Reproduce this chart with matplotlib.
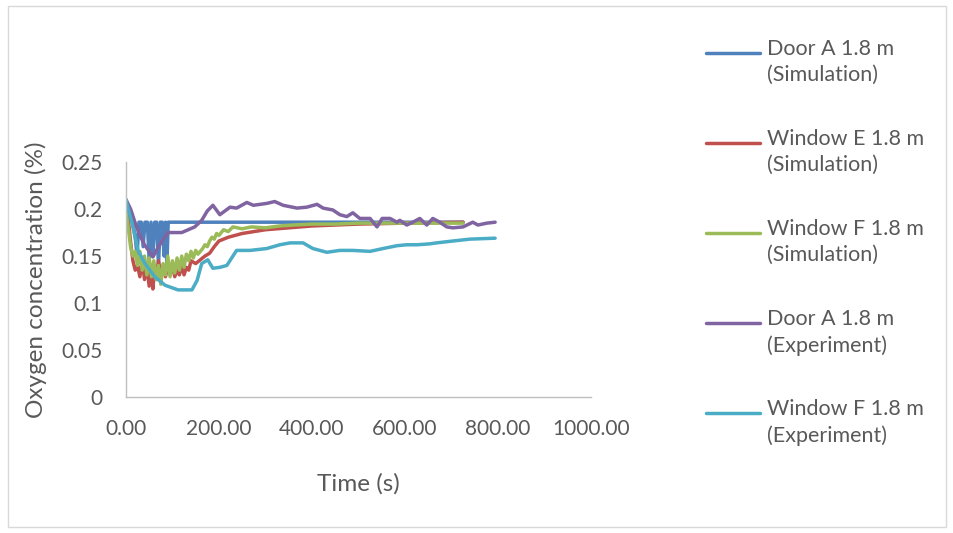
import matplotlib
matplotlib.use("Agg")
import matplotlib.pyplot as plt
from matplotlib.lines import Line2D
from matplotlib.patches import Rectangle
from matplotlib.ticker import FuncFormatter

# ==============================
# Data
# ==============================
door_sim_t = [0, 8, 15, 20, 24, 28, 33, 37, 41, 46, 50, 54, 58, 62, 66, 70, 74, 78, 82, 85,
              88, 91, 725]
door_sim_c = [0.21, 0.2, 0.186, 0.17, 0.15, 0.186, 0.186, 0.16, 0.186, 0.186, 0.145, 0.186,
              0.15, 0.186, 0.186, 0.14, 0.186, 0.186, 0.15, 0.186, 0.14, 0.186, 0.186]

win_e_sim_t = [0, 5, 10, 15, 20, 25, 30, 35, 40, 45, 50, 55, 58, 62, 66, 70, 75, 80, 85, 90,
               95, 100, 105, 110, 115, 120, 125, 130, 135, 140, 150, 160, 170, 180, 190, 200,
               220, 250, 300, 350, 400, 450, 500, 600, 725]
win_e_sim_c = [0.205, 0.19, 0.165, 0.145, 0.135, 0.14, 0.128, 0.145, 0.125, 0.14, 0.118, 0.135,
               0.115, 0.14, 0.125, 0.145, 0.13, 0.14, 0.128, 0.138, 0.13, 0.142, 0.128, 0.135,
               0.13, 0.14, 0.13, 0.138, 0.135, 0.145, 0.142, 0.146, 0.15, 0.153, 0.16, 0.166,
               0.17, 0.174, 0.178, 0.18, 0.182, 0.183, 0.184, 0.185, 0.186]

win_f_sim_t = [0, 5, 10, 15, 20, 25, 30, 35, 40, 45, 50, 55, 60, 65, 70, 75, 80, 85, 90, 95,
               100, 105, 110, 115, 120, 125, 130, 135, 140, 145, 150, 155, 160, 165, 170, 175,
               180, 185, 190, 195, 200, 210, 220, 230, 250, 270, 300, 330, 360, 400, 450, 500,
               550, 600, 650, 725]
win_f_sim_c = [0.198, 0.18, 0.16, 0.15, 0.155, 0.14, 0.155, 0.135, 0.15, 0.13, 0.148, 0.128,
               0.145, 0.125, 0.14, 0.12, 0.142, 0.13, 0.15, 0.128, 0.145, 0.132, 0.148, 0.135,
               0.15, 0.138, 0.152, 0.145, 0.155, 0.148, 0.156, 0.152, 0.155, 0.158, 0.162,
               0.16, 0.166, 0.17, 0.168, 0.174, 0.172, 0.178, 0.176, 0.181, 0.179, 0.181,
               0.18, 0.182, 0.183, 0.184, 0.184, 0.185, 0.185, 0.185, 0.185, 0.185]

door_exp_t = [0, 10, 20, 30, 40, 50, 58, 70, 90, 120, 148, 163, 175, 187, 202, 224, 238, 260,
              274, 303, 320, 338, 368, 389, 411, 424, 445, 460, 475, 488, 503, 525, 540, 551,
              568, 583, 589, 604, 617, 632, 647, 660, 675, 690, 703, 725, 746, 757, 776, 794]
door_exp_c = [0.21, 0.2, 0.185, 0.172, 0.162, 0.155, 0.149, 0.16, 0.175, 0.175, 0.181, 0.188,
              0.198, 0.204, 0.194, 0.202, 0.201, 0.207, 0.204, 0.206, 0.208, 0.204, 0.201,
              0.202, 0.205, 0.201, 0.199, 0.194, 0.192, 0.196, 0.19, 0.19, 0.181, 0.19, 0.19,
              0.186, 0.188, 0.183, 0.186, 0.19, 0.183, 0.19, 0.186, 0.181, 0.18, 0.181, 0.186,
              0.183, 0.185, 0.186]

win_f_exp_t = [0, 13, 26, 41, 62, 84, 112, 142, 153, 163, 176, 187, 202, 217, 238, 267, 303,
               331, 353, 381, 402, 432, 460, 488, 525, 553, 583, 604, 626, 654, 668, 703, 740, 794]
win_f_exp_c = [0.21, 0.185, 0.156, 0.142, 0.128, 0.119, 0.114, 0.114, 0.124, 0.142, 0.146,
               0.137, 0.138, 0.14, 0.156, 0.156, 0.158, 0.162, 0.164, 0.164, 0.158, 0.154,
               0.156, 0.156, 0.155, 0.158, 0.161, 0.162, 0.162, 0.163, 0.164, 0.166, 0.168, 0.169]

series_labels = ["Door A 1.8 m\n(Simulation)", "Window E 1.8 m\n(Simulation)",
                 "Window F 1.8 m\n(Simulation)", "Door A 1.8 m\n(Experiment)",
                 "Window F 1.8 m\n(Experiment)"]
series_colors = ["#4F81BD", "#C0504D", "#9BBB59", "#8064A2", "#4BACC6"]

x_ticks = [0, 200, 400, 600, 800, 1000]
y_ticks = [0, 0.05, 0.1, 0.15, 0.2, 0.25]

# ==============================
# Figure
# ==============================
plt.rcParams["font.family"] = ["Lato", "DejaVu Sans"]
text_col = "#595959"
axis_col = "#BFBFBF"

fig = plt.figure(figsize=(9.54, 5.33), dpi=100)
fig.add_artist(Rectangle((0.008, 0.012), 0.984, 0.976, transform=fig.transFigure,
                         fill=False, edgecolor="#D9D9D9", linewidth=1.0))

ax = fig.add_axes([0.132, 0.255, 0.4874, 0.441])

data = [(door_sim_t, door_sim_c), (win_e_sim_t, win_e_sim_c), (win_f_sim_t, win_f_sim_c),
        (door_exp_t, door_exp_c), (win_f_exp_t, win_f_exp_c)]
for (t, c), col in zip(data, series_colors):
    ax.plot(t, c, color=col, linewidth=2.5, solid_capstyle="round", solid_joinstyle="round")

ax.set_xlim(0, 1000)
ax.set_ylim(0, 0.25)
ax.set_xticks(x_ticks)
ax.set_yticks(y_ticks)
ax.xaxis.set_major_formatter(FuncFormatter(lambda v, p: f"{v:.2f}"))
ax.yaxis.set_major_formatter(FuncFormatter(lambda v, p: f"{v:g}"))
ax.tick_params(length=0, labelsize=15, labelcolor=text_col)
ax.tick_params(axis="x", pad=16)
ax.tick_params(axis="y", pad=17)
for s in ["top", "right"]:
    ax.spines[s].set_visible(False)
for s in ["left", "bottom"]:
    ax.spines[s].set_color(axis_col)
    ax.spines[s].set_linewidth(1.0)

ax.set_xlabel("Time (s)", fontsize=17.5, color=text_col, labelpad=24)
ax.set_ylabel("Oxygen concentration (%)", fontsize=17.5, color=text_col, labelpad=10)

# legend drawn on the figure, line beside first text row
row_y = [53, 143, 233, 323, 413]
for lab, col, yp in zip(series_labels, series_colors, row_y):
    yf = 1 - yp / 533
    fig.add_artist(Line2D([706 / 954, 760 / 954], [yf, yf], transform=fig.transFigure,
                          color=col, linewidth=2.5, solid_capstyle="round"))
    fig.text(767 / 954, yf + 0.027, lab, fontsize=15.5, color=text_col,
             va="top", ha="left", linespacing=1.4)

fig.savefig("out.png", dpi=100)
